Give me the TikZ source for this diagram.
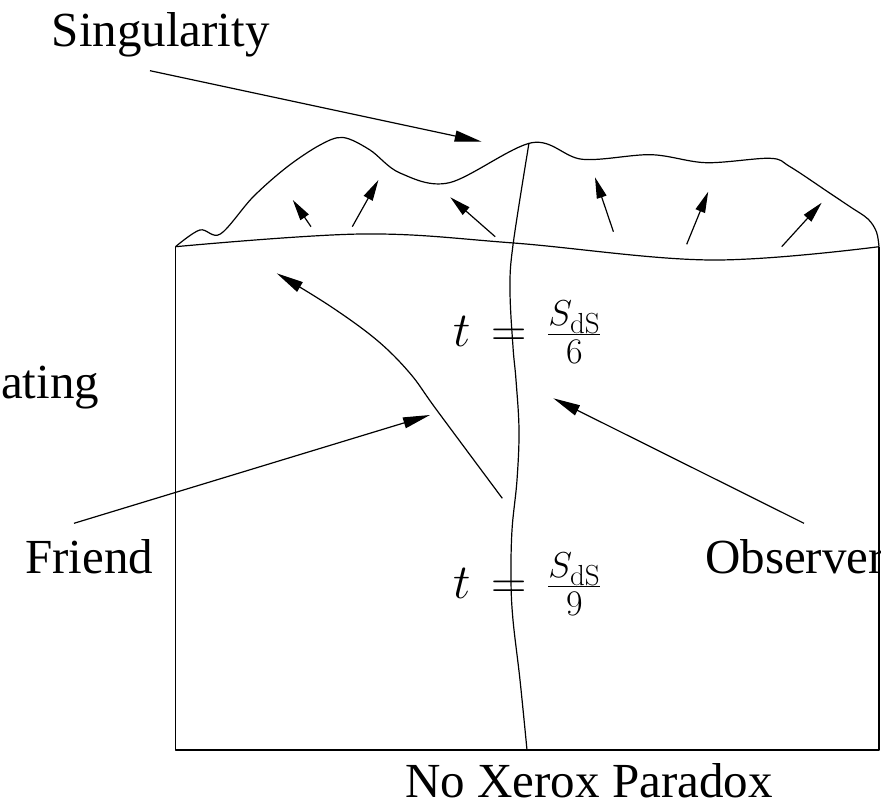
\RequirePackage{fix-cm}
\documentclass[tikz,border=0pt]{standalone}
\usepackage[no-math]{fontspec}
\setmainfont{Liberation Serif}
\usetikzlibrary{arrows.meta}
\DeclareMathSizes{49}{49}{36}{29}
\tikzset{
  lbl/.style={font=\fontsize{49}{59}\selectfont, inner sep=0pt, anchor=base west},
  thinline/.style={line width=1.2pt, line join=round},
  bigarrow/.style={thinline, -{Triangle[length=27pt,width=11pt]}},
  smallarrow/.style={thinline, -{Triangle[length=21pt,width=10pt]}},
}
\newcommand{\releq}{\mkern2.6mu=\mkern2.6mu}
\begin{document}
\begin{tikzpicture}[x=1pt,y=-1pt]
\useasboundingbox (0,0) rectangle (887,805);
\begin{scope}
\clip (0,0) rectangle (880.5,805);
% labels
\node[lbl] (sing) at (51.7,46.7) {Singularity};
\node[lbl] (ating) at (1,398.3) {ating};
\node[lbl] (friend) at (25,573.3) {Friend};
\node[lbl] (obs) at (705,573.3) {Observer};
\node[lbl] (noxerox) at (405,797.5) {No Xerox Paradox};
\node[lbl] (eqa) at (453,346.5) {$t\releq\frac{S_{\mathrm{dS}}}{6}$};
\node[lbl] (eqb) at (453,598.5) {$t\releq\frac{S_{\mathrm{dS}}}{9}$};
\end{scope}
% box
\coordinate (tl) at (175.5,246.7);
\coordinate (tr) at (879,246.7);
\coordinate (bl) at (175.5,750);
\coordinate (br) at (879,750);
\draw[thinline] (tl) -- (bl) -- (br) -- (tr);
% lower wavy edge
\draw[thinline] plot[smooth, tension=0.6] coordinates {(175.5,246.7) (362,234) (513.6,243) (710.5,260) (879,246.7)};
% singularity curve
\draw[thinline] plot[smooth, tension=0.55] coordinates {(175.5,246.7) (199.8,230) (220.4,234) (253,197) (287,167) (320,145) (343,137.5) (370,150) (400,173) (449.4,182.7) (531.9,142.7) (582.3,159.3) (651,154.7) (706,162.7) (770,158.3) (790,166.7) (830,193.3) (850,206.7) (868,219) (876.5,232) (879,246.7)};
% observer worldline
\draw[thinline] plot[smooth, tension=0.6] coordinates {(527,750) (520,680) (513,620) (511,580) (512,530) (517,480) (519,430) (516,380) (513,347) (510,290) (513,245) (529,143)};
% friend worldline
\draw[bigarrow] plot[smooth, tension=0.6] coordinates {(502.3,498.3) (436.7,410) (410,373.3) (376.7,340) (330,306) (276.7,273.3)};
% small arrows
\coordinate (a1s) at (311,226.7);   \coordinate (a1e) at (292.8,200);
\coordinate (a2s) at (352.3,226.7); \coordinate (a2e) at (378.4,180);
\coordinate (a3s) at (495.2,236.7); \coordinate (a3e) at (450.3,197.3);
\coordinate (a4s) at (613.4,231.7); \coordinate (a4e) at (595,177.3);
\coordinate (a5s) at (686.7,244.3); \coordinate (a5e) at (708.2,191.7);
\coordinate (a6s) at (781.7,246.7); \coordinate (a6e) at (821.7,202.7);
\foreach \i in {1,...,6} {\draw[smallarrow] (a\i s) -- (a\i e);}
% pointer arrows
\coordinate (singtail) at (150,70.7);  \coordinate (singtip) at (481.7,141.7);
\coordinate (frtail) at (74,523.3);    \coordinate (frtip) at (430,415);
\coordinate (obtail) at (804,523.3);   \coordinate (obtip) at (553.3,398.3);
\draw[bigarrow] (singtail) -- (singtip);
\draw[bigarrow] (frtail) -- (frtip);
\draw[bigarrow] (obtail) -- (obtip);
\end{tikzpicture}
\end{document}
